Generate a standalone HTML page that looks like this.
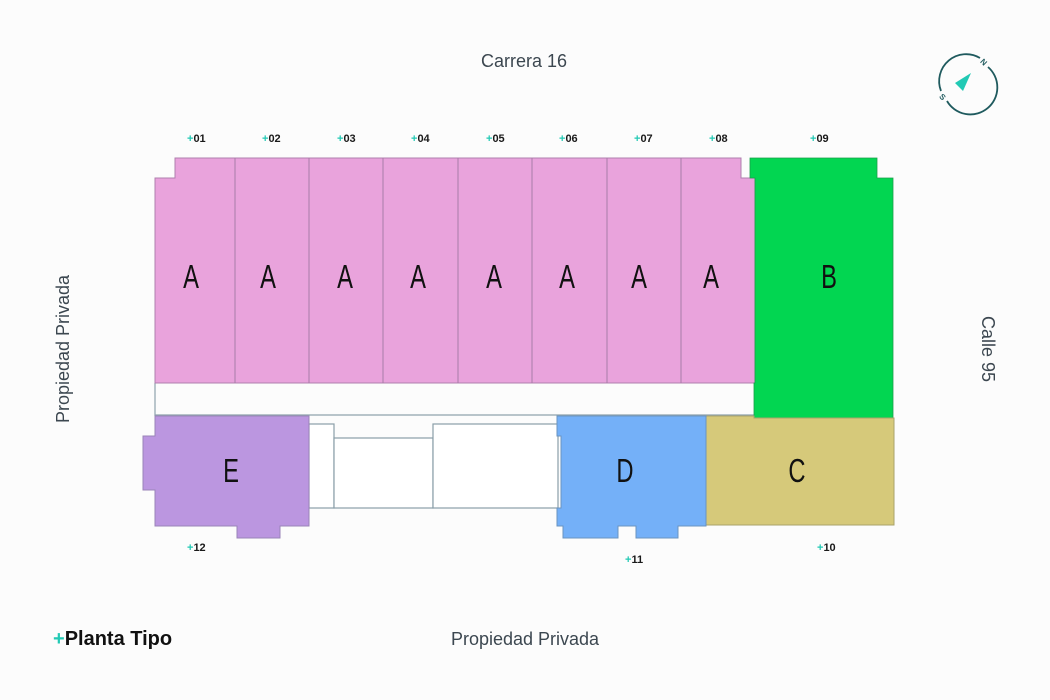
<!DOCTYPE html>
<html><head><meta charset="utf-8"><style>
html,body{margin:0;padding:0;background:#fcfcfc;}
svg{display:block}
.lbl{font-family:"Liberation Sans",sans-serif;font-size:11px;font-weight:bold;fill:#1a1a1a}
.pl{fill:#22c9b4}
.big{font-family:"Liberation Sans",sans-serif;font-size:33px;fill:#111}
.st{font-family:"Liberation Sans",sans-serif;font-size:18px;fill:#3c4750}
</style></head><body>
<svg width="1050" height="700" viewBox="0 0 1050 700" xmlns="http://www.w3.org/2000/svg">
<rect width="1050" height="700" fill="#fcfcfc"/>
<path d="M155 383 V416 M155 415 H755" stroke="#8fa3ad" stroke-width="1.2" fill="none"/>
<path d="M155 178 H175 V158 H741 V178 H755 V383 H155 Z" fill="#e9a3dc" stroke="#b07fae" stroke-width="1"/>
<g stroke="#a77ca8" stroke-width="1">
<line x1="235" y1="158" x2="235" y2="383"/><line x1="309" y1="158" x2="309" y2="383"/>
<line x1="383" y1="158" x2="383" y2="383"/><line x1="458" y1="158" x2="458" y2="383"/>
<line x1="532" y1="158" x2="532" y2="383"/><line x1="607" y1="158" x2="607" y2="383"/>
<line x1="681" y1="158" x2="681" y2="383"/>
</g>
<path d="M750 158 H877 V178 H893 V418 H754 V383 H755 V178 H750 Z" fill="#02d651" stroke="#1a9e4a" stroke-width="0.8"/>
<g fill="#fff" stroke="#8a9ea8" stroke-width="1.2">
<rect x="309" y="424" width="25" height="84"/>
<rect x="334" y="438" width="99" height="70"/>
<rect x="433" y="424" width="125" height="84"/>
</g>
<path d="M155 416 H309 V526 H280 V538 H237 V526 H155 V490 H143 V436 H155 Z" fill="#bb96e0" stroke="#9a84b8" stroke-width="1"/>
<path d="M706 416 H754 V418 H894 V525 H706 Z" fill="#d6c97a" stroke="#a9a26a" stroke-width="1"/>
<path d="M557 416 H706 V526 H678 V538 H636 V526 H618 V538 H563 V526 H557 V508 H561 V436 H557 Z" fill="#74b0f8" stroke="#6a93c0" stroke-width="1"/>
<g class="big" text-anchor="middle">
<text transform="translate(191 288) scale(0.72 1)">A</text>
<text transform="translate(268 288) scale(0.72 1)">A</text>
<text transform="translate(345 288) scale(0.72 1)">A</text>
<text transform="translate(418 288) scale(0.72 1)">A</text>
<text transform="translate(494 288) scale(0.72 1)">A</text>
<text transform="translate(567 288) scale(0.72 1)">A</text>
<text transform="translate(639 288) scale(0.72 1)">A</text>
<text transform="translate(711 288) scale(0.72 1)">A</text>
<text transform="translate(829 288) scale(0.72 1)">B</text>
<text transform="translate(231 482) scale(0.72 1)">E</text>
<text transform="translate(625 482) scale(0.72 1)">D</text>
<text transform="translate(797 482) scale(0.72 1)">C</text>
</g>
<g class="lbl">
<text x="187" y="142"><tspan class="pl">+</tspan>01</text>
<text x="262" y="142"><tspan class="pl">+</tspan>02</text>
<text x="337" y="142"><tspan class="pl">+</tspan>03</text>
<text x="411" y="142"><tspan class="pl">+</tspan>04</text>
<text x="486" y="142"><tspan class="pl">+</tspan>05</text>
<text x="559" y="142"><tspan class="pl">+</tspan>06</text>
<text x="634" y="142"><tspan class="pl">+</tspan>07</text>
<text x="709" y="142"><tspan class="pl">+</tspan>08</text>
<text x="810" y="142"><tspan class="pl">+</tspan>09</text>
<text x="817" y="551"><tspan class="pl">+</tspan>10</text>
<text x="625" y="563"><tspan class="pl">+</tspan>11</text>
<text x="187" y="551"><tspan class="pl">+</tspan>12</text>
</g>
<text class="st" x="524" y="67" text-anchor="middle">Carrera 16</text>
<text class="st" x="525" y="645" text-anchor="middle">Propiedad Privada</text>
<text class="st" transform="translate(69 349) rotate(-90)" text-anchor="middle">Propiedad Privada</text>
<text class="st" transform="translate(982 349) rotate(90)" text-anchor="middle">Calle 95</text>
<text x="53" y="645" font-family="Liberation Sans,sans-serif" font-size="20" font-weight="bold" fill="#111"><tspan fill="#22c9b4">+</tspan>Planta Tipo</text>
<g>
<path d="M988 67 A27 27 0 1 1 947 101" fill="none" stroke="#1f5a5e" stroke-width="1.8"/>
<path d="M941 91 A27 27 0 0 1 980 58" fill="none" stroke="#1f5a5e" stroke-width="1.8"/>
<polygon points="971,73 955,83 963,91" fill="#22c9b4"/>
<text x="981" y="65" font-family="Liberation Sans,sans-serif" font-size="8" font-weight="bold" fill="#1f5a5e" transform="rotate(45 984 62)">N</text>
<text x="940" y="100" font-family="Liberation Sans,sans-serif" font-size="8" font-weight="bold" fill="#1f5a5e" transform="rotate(45 943 97)">S</text>
</g>
</svg>
</body></html>
